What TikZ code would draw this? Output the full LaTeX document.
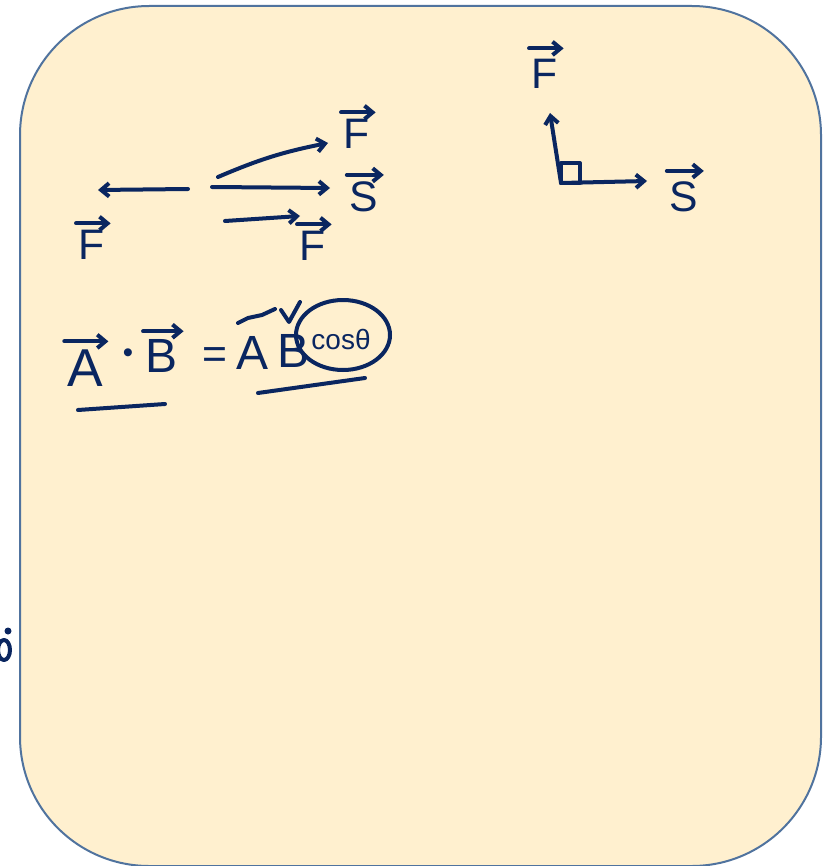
\documentclass[tikz,border=0pt]{standalone}
\usepackage{fontspec}
\setmainfont{Liberation Sans}
\usetikzlibrary{arrows.meta}
\definecolor{pad}{RGB}{255,240,207}
\definecolor{rim}{RGB}{80,115,158}
\definecolor{inkblue}{RGB}{10,38,96}

\begin{document}
\begin{tikzpicture}[x=0.75pt, y=-0.75pt,
  pen/.style={draw=inkblue, line width=3pt, line cap=round, line join=round},
  vec/.style={pen, -{Straight Barb[length=6pt, width=10pt]}},
  lbl/.style={text=inkblue, inner sep=0pt, font=\fontsize{32}{32}\selectfont},
  biglbl/.style={lbl, font=\fontsize{40}{40}\selectfont},
  bar/.style={vec, shorten >=-4pt, shorten <=-2pt},
]
  \useasboundingbox (0,0) rectangle (829,866);
  \draw[draw=rim, fill=pad, line width=1.5pt, rounded corners=97pt] (20,6) rectangle (821,866);

  % force along and against the displacement
  \coordinate (back0) at (188,189);
  \coordinate (back1) at (98,190);
  \coordinate (up0) at (218,177);
  \coordinate (up1) at (328,143);
  \coordinate (mid0) at (212,187);
  \coordinate (mid1) at (330,188);
  \coordinate (low0) at (225,221);
  \coordinate (low1) at (300,216);
  \draw[vec] (back0) -- (back1);
  \draw[vec] (up0) to[bend left=6] (up1);
  \draw[vec] (mid0) -- (mid1);
  \draw[vec] (low0) -- (low1);

  \node[lbl] (fback) at (92,245) {F};
  \node[lbl] (fup) at (357,134) {F};
  \node[lbl] (smid) at (364,197) {S};
  \node[lbl] (flow) at (313,246) {F};
  \foreach \n in {fback, fup, smid, flow}
    \draw[bar] ([yshift=5pt]\n.north west) -- ([yshift=5pt]\n.north east);

  % perpendicular case
  \coordinate (corner) at (561,183);
  \coordinate (perpup) at (550,113);
  \coordinate (perpright) at (647,181);
  \draw[vec] (corner) -- (perpup);
  \draw[vec] (corner) -- (perpright);
  \draw[pen, line width=2.5pt] (561,163) rectangle (580,183);
  \node[lbl] (fperp) at (545,74) {F};
  \node[lbl] (sperp) at (684,197) {S};
  \foreach \n in {fperp, sperp}
    \draw[bar] ([yshift=8pt]\n.north west) -- ([yshift=8pt]\n.north east);

  % dot product
  \node[biglbl] (ea) at (85,368) {A};
  \node[lbl, font=\fontsize{22}{22}\selectfont] (edot) at (128,356) {•};
  \node[lbl, font=\fontsize{36}{36}\selectfont] (eb) at (162,356) {B};
  \node[lbl] (eeq) at (215,358) {=};
  \node[lbl, font=\fontsize{36}{36}\selectfont] (ra) at (253,353) {A};
  \node[lbl, font=\fontsize{36}{36}\selectfont] (rb) at (294,351) {B};
  \node[lbl, font=\fontsize{21}{21}\selectfont] (cs) at (341,339) {cosθ};
  \foreach \n in {ea, eb}
    \draw[bar] ([yshift=6pt]\n.north west) -- ([yshift=6pt]\n.north east);
  \draw[pen] (343,335) ellipse [x radius=47, y radius=35];
  \draw[pen] (238,323) -- (248,318) -- (262,315) -- (275,309);
  \draw[pen] (281,310) -- (289,322) -- (300,302);
  \draw[pen] (78,410) -- (165,404);
  \draw[pen] (258,393) -- (365,378);

  % stray mark on the left edge
  \fill[inkblue] (8,631) circle (3.5);
  \draw[pen] (4,650) ellipse [x radius=6, y radius=10];
\end{tikzpicture}
\end{document}
